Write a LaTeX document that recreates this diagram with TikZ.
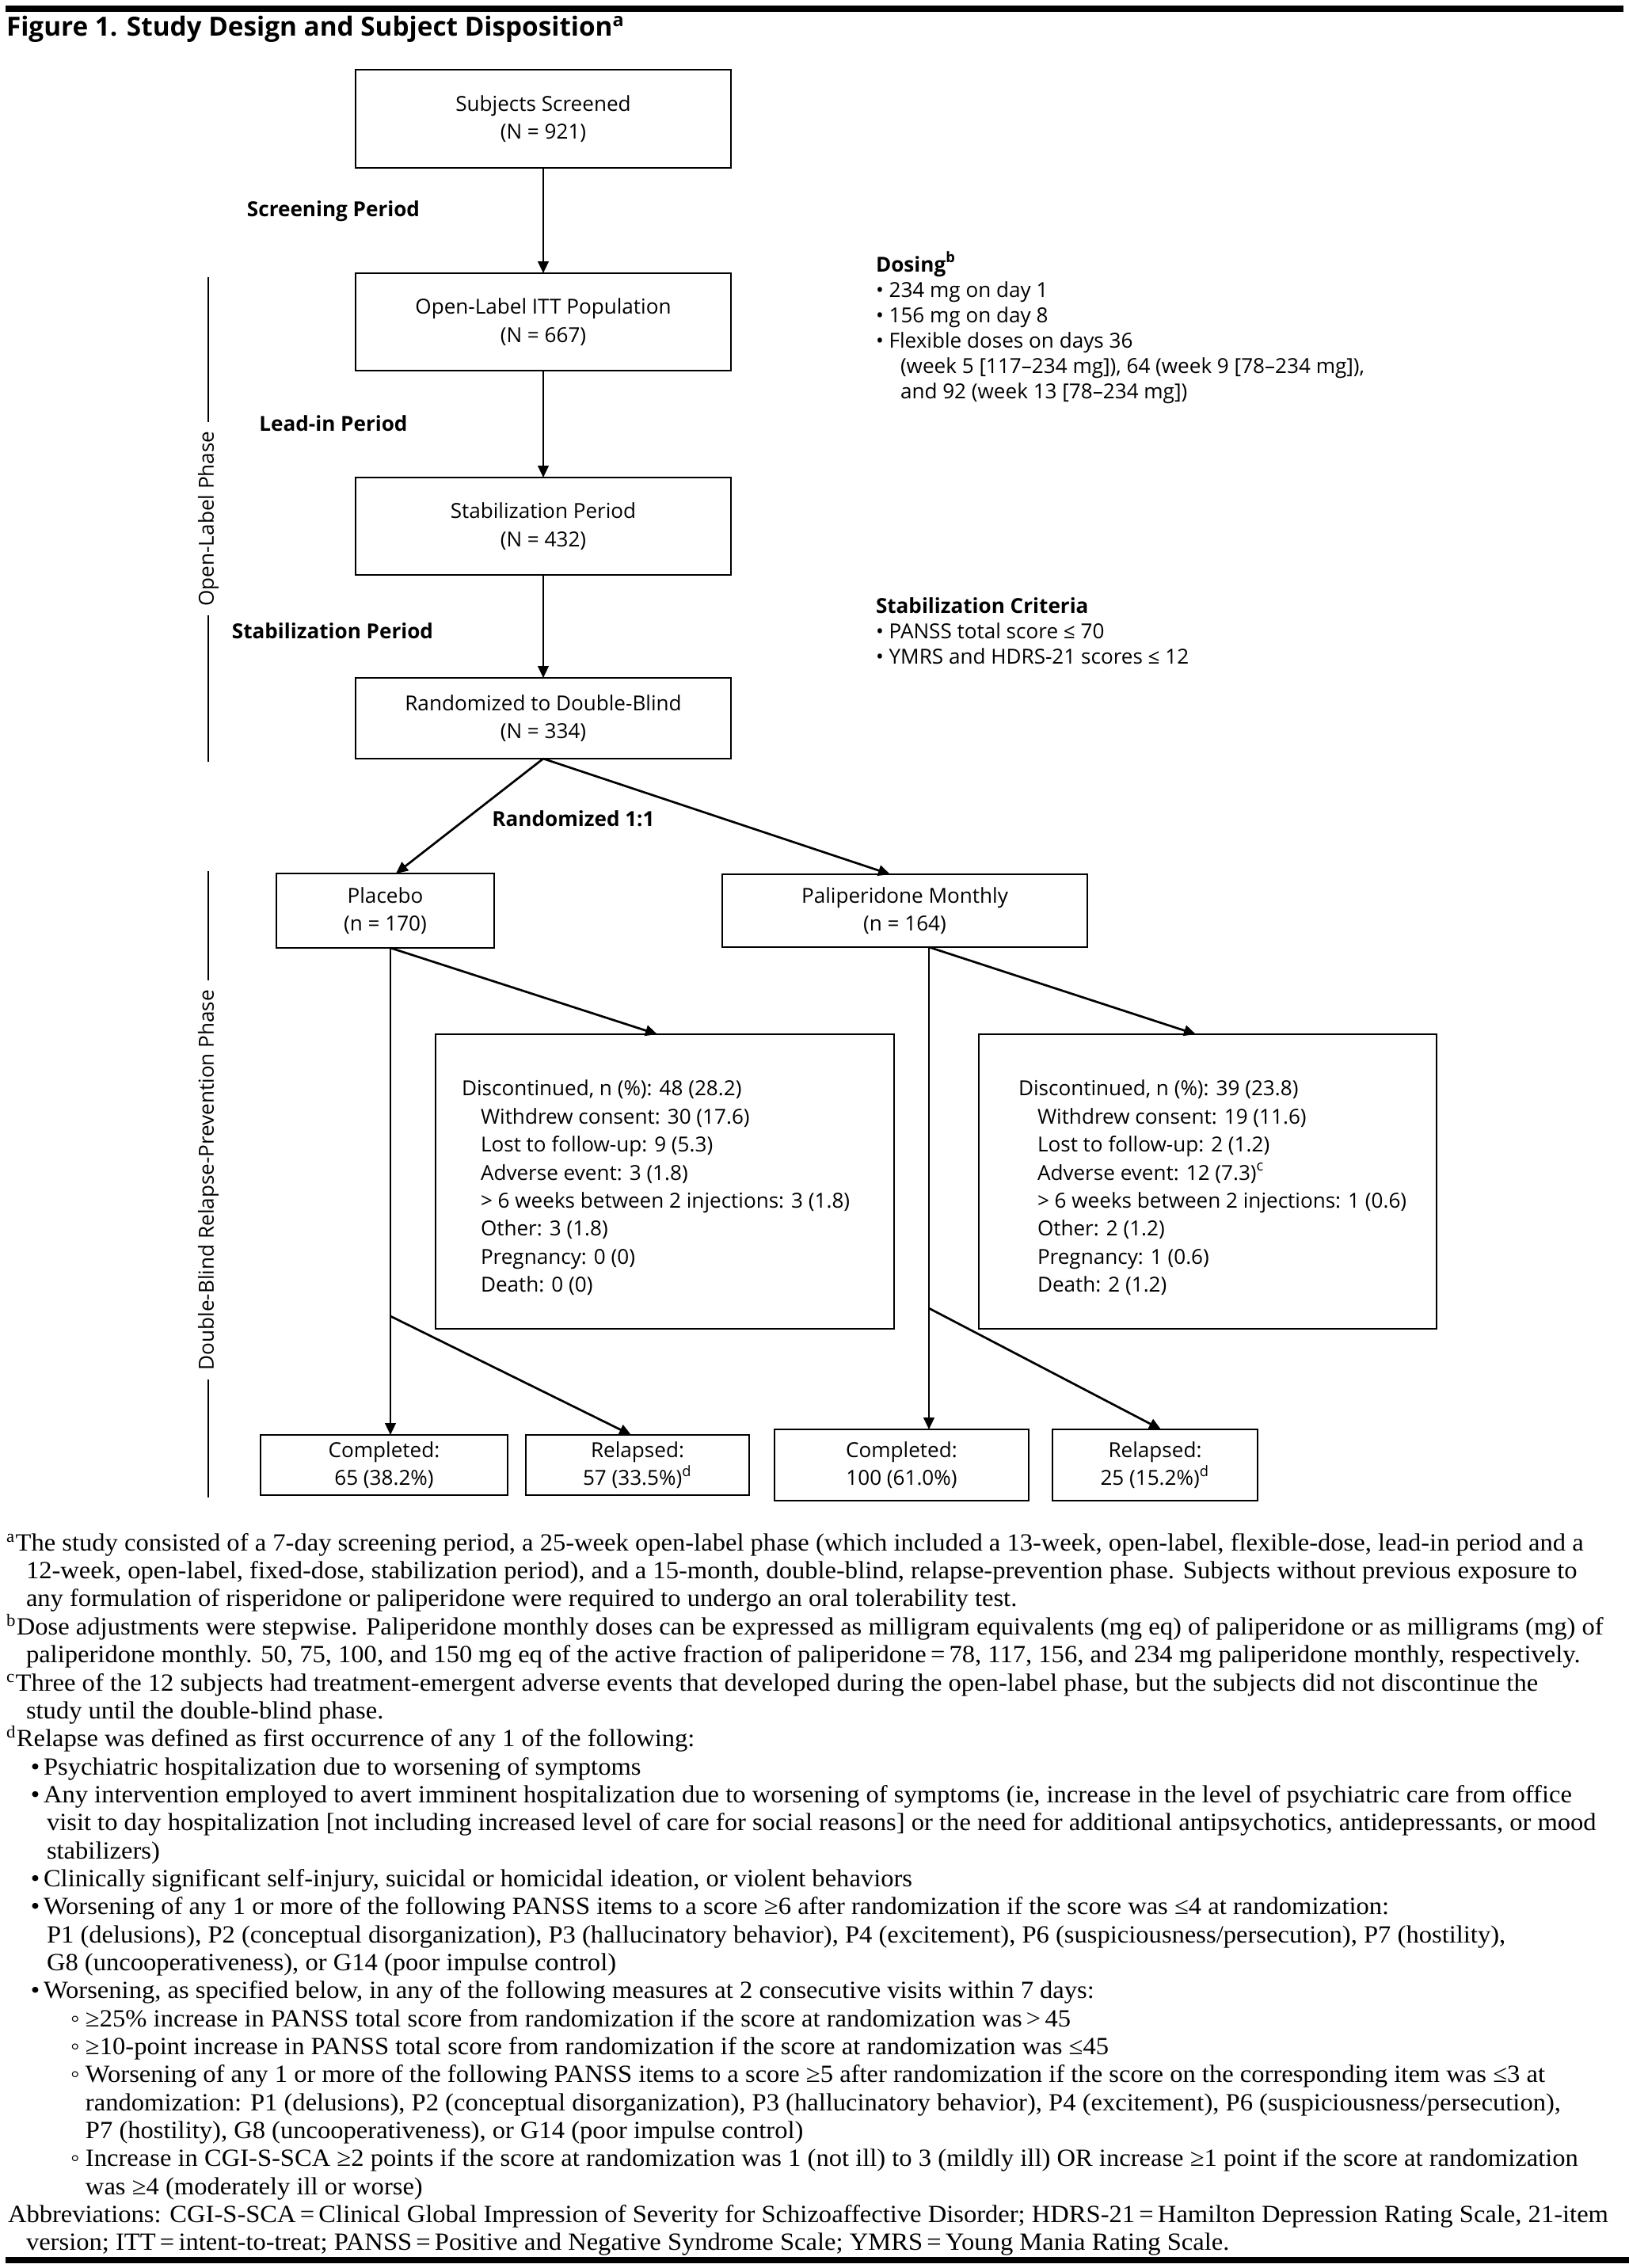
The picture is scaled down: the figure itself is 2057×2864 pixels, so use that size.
\documentclass[tikz,border=0pt]{standalone}
\usepackage{fontspec}
\setmainfont{Liberation Serif}
\newfontfamily\fnfont[FakeStretch=1.044]{Liberation Serif}
\newfontfamily\osans{Open Sans}
\usetikzlibrary{arrows.meta}
\def\pxu{0.33333pt}
\begin{document}
\begin{tikzpicture}[x=0.33333pt,y=-0.33333pt,
  every node/.style={inner sep=0pt, outer sep=0pt},
  dg/.style={font=\osans\fontsize{8.7}{11.8}\selectfont},
  dgb/.style={font=\osans\bfseries\fontsize{8.7}{11.8}\selectfont},
  box/.style={dg, draw, line width=0.9pt, align=center},
  dtx/.style={dg, anchor=base west},
  dtb/.style={dgb, anchor=base west},
  fn/.style={font=\fnfont\fontsize{10.4}{11.7}\selectfont, anchor=base west},
  arr/.style={line width=0.9pt, -{Triangle[length=5pt,width=4.5pt]}},
  ln/.style={line width=0.9pt},
]
\fill[white] (0,0) rectangle (2057,2864);
\useasboundingbox (0,0) rectangle (2057,2864);
% rules
\fill[black] (7,7) rectangle (2050,15);
\fill[black] (7,2850) rectangle (2057,2858);
% title
\node[anchor=base west, font=\osans\bfseries\fontsize{11.1}{13}\selectfont] (title) at (8,45) {Figure 1. Study Design and Subject Disposition\textsuperscript{a}};

% main column
\node[box, minimum width=474*\pxu, minimum height=124*\pxu] (b1) at (686,150) {Subjects Screened\\(N = 921)};
\node[box, minimum width=474*\pxu, minimum height=123*\pxu] (b2) at (686,406.5) {Open-Label ITT Population\\(N = 667)};
\node[box, minimum width=474*\pxu, minimum height=123*\pxu] (b3) at (686,664.5) {Stabilization Period\\(N = 432)};
\node[box, minimum width=474*\pxu, minimum height=102*\pxu] (b4) at (686,907) {Randomized to Double-Blind\\(N = 334)};
\draw[arr] (b1.south) -- (b2.north);
\draw[arr] (b2.south) -- (b3.north);
\draw[arr] (b3.south) -- (b4.north);

\node[dgb] (lscr) at (421,267) {Screening Period};
\node[dgb] (llead) at (421,535) {Lead-in Period};
\node[dgb] (lstab) at (420,797) {Stabilization Period};
\node[dgb] (lrand) at (724,1034) {Randomized 1:1};

% phase labels
\node[dg, rotate=90, inner xsep=4pt] (olp) at (263,655) {Open-Label Phase};
\coordinate (olt) at (263,350);
\coordinate (olb) at (263,962);
\draw[ln] (olt) -- (olp.east);
\draw[ln] (olp.west) -- (olb);
\node[dg, rotate=90, inner xsep=4pt] (dbp) at (263,1490) {Double-Blind Relapse-Prevention Phase};
\coordinate (dbt) at (263,1100);
\coordinate (dbb) at (263,1891);
\draw[ln] (dbt) -- (dbp.east);
\draw[ln] (dbp.west) -- (dbb);

% dosing and criteria
\node[dtb] (dos0) at (1106,343) {Dosing\textsuperscript{b}};
\node[dtx] (dos1) at (1106,375) {• 234 mg on day 1};
\node[dtx] (dos2) at (1106,407) {• 156 mg on day 8};
\node[dtx] (dos3) at (1106,439) {• Flexible doses on days 36};
\node[dtx] (dos4) at (1137,471) {(week 5 [117–234 mg]), 64 (week 9 [78–234 mg]),};
\node[dtx] (dos5) at (1137,503) {and 92 (week 13 [78–234 mg])};
\node[dtb] (sc0) at (1106,774) {Stabilization Criteria};
\node[dtx] (sc1) at (1106,806) {• PANSS total score ≤ 70};
\node[dtx] (sc2) at (1106,838) {• YMRS and HDRS-21 scores ≤ 12};

% arms
\node[box, minimum width=275*\pxu, minimum height=94*\pxu] (pl) at (486.5,1150) {Placebo\\(n = 170)};
\node[box, minimum width=461*\pxu, minimum height=92*\pxu] (pm) at (1142.5,1150) {Paliperidone Monthly\\(n = 164)};
\coordinate (plin) at (500,1103);
\coordinate (pmin) at (1124,1104);
\draw[arr] (b4.south) -- (plin);
\draw[arr] (b4.south) -- (pmin);

% discontinued boxes
\node[box, minimum width=579*\pxu, minimum height=372*\pxu] (dl) at (839.5,1492) {};
\node[dg, align=left, anchor=west] (dlt) at (583,1500) {Discontinued, n (\%): 48 (28.2)\\
\hspace*{8pt}Withdrew consent: 30 (17.6)\\
\hspace*{8pt}Lost to follow-up: 9 (5.3)\\
\hspace*{8pt}Adverse event: 3 (1.8)\\
\hspace*{8pt}> 6 weeks between 2 injections: 3 (1.8)\\
\hspace*{8pt}Other: 3 (1.8)\\
\hspace*{8pt}Pregnancy: 0 (0)\\
\hspace*{8pt}Death: 0 (0)};
\node[box, minimum width=578*\pxu, minimum height=372*\pxu] (dr) at (1525,1492) {};
\node[dg, align=left, anchor=west] (drt) at (1286,1500) {Discontinued, n (\%): 39 (23.8)\\
\hspace*{8pt}Withdrew consent: 19 (11.6)\\
\hspace*{8pt}Lost to follow-up: 2 (1.2)\\
\hspace*{8pt}Adverse event: 12 (7.3)\textsuperscript{c}\\
\hspace*{8pt}> 6 weeks between 2 injections: 1 (0.6)\\
\hspace*{8pt}Other: 2 (1.2)\\
\hspace*{8pt}Pregnancy: 1 (0.6)\\
\hspace*{8pt}Death: 2 (1.2)};

% outcome boxes
\node[box, minimum width=312*\pxu, minimum height=76*\pxu] (cl) at (485,1850) {Completed:\\65 (38.2\%)};
\node[box, minimum width=282*\pxu, minimum height=76*\pxu] (rl) at (805,1850) {Relapsed:\\57 (33.5\%)\textsuperscript{d}};
\node[box, minimum width=321*\pxu, minimum height=90*\pxu] (cr) at (1138.5,1850) {Completed:\\100 (61.0\%)};
\node[box, minimum width=259*\pxu, minimum height=90*\pxu] (rr) at (1458.5,1850) {Relapsed:\\25 (15.2\%)\textsuperscript{d}};

% placebo connectors
\coordinate (plo) at (493,1197);
\coordinate (plbr) at (493,1662);
\coordinate (dlin) at (830,1306);
\coordinate (rlin) at (797,1812);
\draw[arr] (plo) -- (plo |- cl.north);
\draw[arr] (plo) -- (dlin);
\draw[arr] (plbr) -- (rlin);
% paliperidone connectors
\coordinate (pmo) at (1173,1196);
\coordinate (pmbr) at (1173,1652);
\coordinate (drin) at (1510,1306);
\coordinate (rrin) at (1466,1805);
\draw[arr] (pmo) -- (pmo |- cr.north);
\draw[arr] (pmo) -- (drin);
\draw[arr] (pmbr) -- (rrin);

% footnotes
\node[fn] (f0) at (8,1958) {\textsuperscript{a}The study consisted of a 7-day screening period, a 25-week open-label phase (which included a 13-week, open-label, flexible-dose, lead-in period and a};
\node[fn] (f1) at (33,1993) {12-week, open-label, fixed-dose, stabilization period), and a 15-month, double-blind, relapse-prevention phase. Subjects without previous exposure to};
\node[fn] (f2) at (33,2028) {any formulation of risperidone or paliperidone were required to undergo an oral tolerability test.};
\node[fn] (f3) at (8,2064) {\textsuperscript{b}Dose adjustments were stepwise. Paliperidone monthly doses can be expressed as milligram equivalents (mg eq) of paliperidone or as milligrams (mg) of};
\node[fn] (f4) at (33,2099) {paliperidone monthly. 50, 75, 100, and 150 mg eq of the active fraction of paliperidone\,=\,78, 117, 156, and 234 mg paliperidone monthly, respectively.};
\node[fn] (f5) at (8,2135) {\textsuperscript{c}Three of the 12 subjects had treatment-emergent adverse events that developed during the open-label phase, but the subjects did not discontinue the};
\node[fn] (f6) at (33,2170) {study until the double-blind phase.};
\node[fn] (f7) at (8,2205) {\textsuperscript{d}Relapse was defined as first occurrence of any 1 of the following:};
\node[fn] (g8) at (39,2241) {•};
\node[fn] (f8) at (55,2241) {Psychiatric hospitalization due to worsening of symptoms};
\node[fn] (g9) at (39,2276) {•};
\node[fn] (f9) at (55,2276) {Any intervention employed to avert imminent hospitalization due to worsening of symptoms (ie, increase in the level of psychiatric care from office};
\node[fn] (f10) at (59,2311) {visit to day hospitalization [not including increased level of care for social reasons] or the need for additional antipsychotics, antidepressants, or mood};
\node[fn] (f11) at (59,2347) {stabilizers)};
\node[fn] (g12) at (39,2382) {•};
\node[fn] (f12) at (55,2382) {Clinically significant self-injury, suicidal or homicidal ideation, or violent behaviors};
\node[fn] (g13) at (39,2417) {•};
\node[fn] (f13) at (55,2417) {Worsening of any 1 or more of the following PANSS items to a score ≥6 after randomization if the score was ≤4 at randomization:};
\node[fn] (f14) at (59,2453) {P1 (delusions), P2 (conceptual disorganization), P3 (hallucinatory behavior), P4 (excitement), P6 (suspiciousness/persecution), P7 (hostility),};
\node[fn] (f15) at (59,2488) {G8 (uncooperativeness), or G14 (poor impulse control)};
\node[fn] (g16) at (39,2523) {•};
\node[fn] (f16) at (55,2523) {Worsening, as specified below, in any of the following measures at 2 consecutive visits within 7 days:};
\node[fn] (g17) at (89,2559) {◦};
\node[fn] (f17) at (108,2559) {≥25\% increase in PANSS total score from randomization if the score at randomization was\,>\,45};
\node[fn] (g18) at (89,2594) {◦};
\node[fn] (f18) at (108,2594) {≥10-point increase in PANSS total score from randomization if the score at randomization was ≤45};
\node[fn] (g19) at (89,2629) {◦};
\node[fn] (f19) at (108,2629) {Worsening of any 1 or more of the following PANSS items to a score ≥5 after randomization if the score on the corresponding item was ≤3 at};
\node[fn] (f20) at (108,2665) {randomization: P1 (delusions), P2 (conceptual disorganization), P3 (hallucinatory behavior), P4 (excitement), P6 (suspiciousness/persecution),};
\node[fn] (f21) at (108,2700) {P7 (hostility), G8 (uncooperativeness), or G14 (poor impulse control)};
\node[fn] (g22) at (89,2735) {◦};
\node[fn] (f22) at (108,2735) {Increase in CGI-S-SCA ≥2 points if the score at randomization was 1 (not ill) to 3 (mildly ill) OR increase ≥1 point if the score at randomization};
\node[fn] (f23) at (108,2771) {was ≥4 (moderately ill or worse)};
\node[fn] (f24) at (10,2806) {Abbreviations: CGI-S-SCA\,=\,Clinical Global Impression of Severity for Schizoaffective Disorder; HDRS-21\,=\,Hamilton Depression Rating Scale, 21-item};
\node[fn] (f25) at (33,2841) {version; ITT\,=\,intent-to-treat; PANSS\,=\,Positive and Negative Syndrome Scale; YMRS\,=\,Young Mania Rating Scale.};
\end{tikzpicture}
\end{document}
